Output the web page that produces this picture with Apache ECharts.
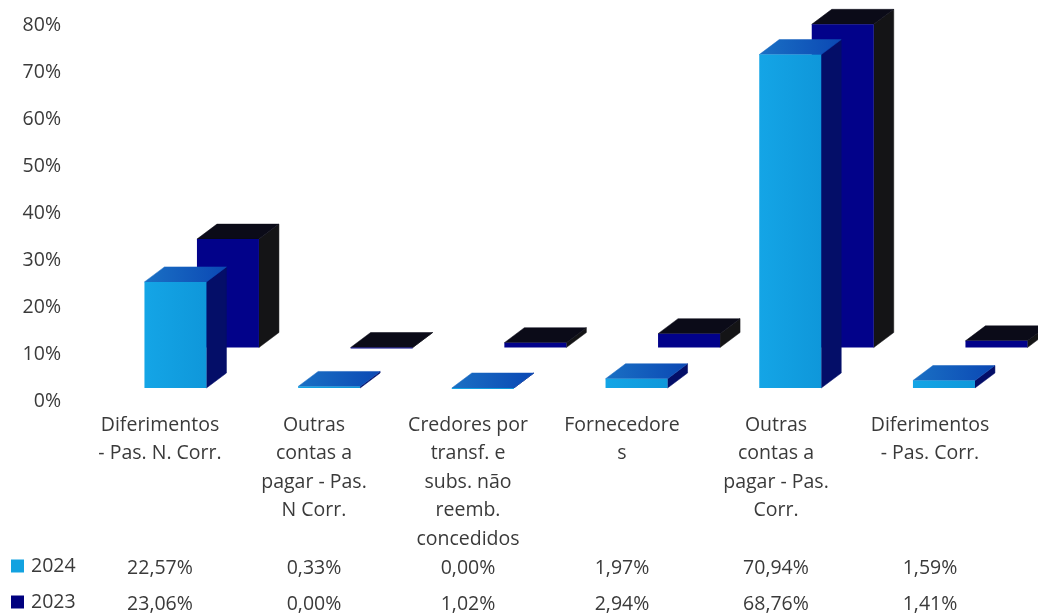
<!DOCTYPE html>
<html><head><meta charset="utf-8">
<style>html,body{margin:0;padding:0;background:#fff}#c{width:1038px;height:614px}</style>
<script src="https://cdn.jsdelivr.net/npm/echarts@6/dist/echarts.min.js"></script>
</head><body><div id="c"></div>
<script>
const categories = ["Diferimentos\n- Pas. N. Corr.","Outras\ncontas a\npagar - Pas.\nN Corr.","Credores por\ntransf. e\nsubs. não\nreemb.\nconcedidos","Fornecedore\ns","Outras\ncontas a\npagar - Pas.\nCorr.","Diferimentos\n- Pas. Corr."];
const values2024 = [22.57,0.33,0.00,1.97,70.94,1.59];
const values2023 = [23.06,0.00,1.02,2.94,68.76,1.41];
const yTicks = [0,10,20,30,40,50,60,70,80];

const font = '"Open Sans"';
const fontSize = 19.5;
const textColor = '#3a3a3a';
const fmt = v => v.toFixed(2).replace('.',',') + '%';
const grad = (a,b,h) => new echarts.graphic.LinearGradient(0,0,h?1:0,h?0:1,[{offset:0,color:a},{offset:1,color:b}]);

function prism(cols, shiftX, shiftY){
  return function(params, api){
    const top = api.coord([api.value(0), api.value(1)]);
    const base = api.coord([api.value(0), 0]);
    const w = 62, dx = 20, dy = 15, e = 0.5;
    const l = top[0] - w/2 + shiftX, r = l + w;
    const yt = top[1] + shiftY, yb = base[1] + shiftY;
    const kids = [];
    kids.push({type:'polygon',shape:{points:[[r,yt],[r+dx,yt-dy],[r+dx,yb-dy],[r,yb]]},style:{fill:cols.side,stroke:cols.side,lineWidth:e}});
    kids.push({type:'polygon',shape:{points:[[l,yt],[l+dx,yt-dy],[r+dx,yt-dy],[r,yt]]},style:{fill:cols.top,stroke:cols.top,lineWidth:e}});
    kids.push({type:'rect',shape:{x:l,y:yt,width:w,height:Math.max(yb-yt,1)},style:{fill:cols.front}});
    return {type:'group',children:kids};
  };
}

const legendBase = {left:11,orient:'horizontal',padding:0,icon:'rect',itemWidth:13,itemHeight:13,
  textStyle:{fontFamily:font,fontSize:fontSize,color:textColor,padding:[0,0,0,2]}};

const chart = echarts.init(document.getElementById('c'),null,{renderer:'canvas'});
chart.setOption({
  animation:false,
  backgroundColor:'#fff',
  legend:[
    Object.assign({},legendBase,{top:556,data:['2024']}),
    Object.assign({},legendBase,{top:592,data:['2023']})
  ],
  grid:[
    {left:83,width:924,top:25,bottom:213},
    {left:98.6,width:922.2,top:12,bottom:226}
  ],
  xAxis:[
    {gridIndex:0,type:'category',data:categories,axisLine:{show:false},axisTick:{show:false},
      axisLabel:{interval:0,margin:10,lineHeight:28.5,fontFamily:font,fontSize:fontSize,color:textColor,verticalAlign:'top'}},
    {gridIndex:0,type:'category',data:values2024.map(fmt),position:'bottom',offset:151,axisLine:{show:false},axisTick:{show:false},
      axisLabel:{interval:0,margin:6,fontFamily:font,fontSize:fontSize,color:textColor}},
    {gridIndex:0,type:'category',data:values2023.map(fmt),position:'bottom',offset:187,axisLine:{show:false},axisTick:{show:false},
      axisLabel:{interval:0,margin:6,fontFamily:font,fontSize:fontSize,color:textColor}},
    {gridIndex:1,type:'category',data:categories,show:false}
  ],
  yAxis:[
    {gridIndex:0,type:'value',min:0,max:80,interval:10,splitLine:{show:false},axisLine:{show:false},axisTick:{show:false},
      axisLabel:{margin:22,fontFamily:font,fontSize:fontSize,color:textColor,formatter:v=>yTicks.includes(v)?v+'%':''}},
    {gridIndex:1,type:'value',min:0,max:80,interval:10,show:false}
  ],
  series:[
    {name:'2023',type:'custom',xAxisIndex:3,yAxisIndex:1,itemStyle:{color:'#00007f'},
      data:values2023.map((v,i)=>[i,v]),encode:{x:0,y:1},
      renderItem:prism({front:'#02028a',top:'#0b0b18',side:'#141416'},52.5,-40.5)},
    {name:'2024',type:'custom',xAxisIndex:3,yAxisIndex:1,itemStyle:{color:'#12a2e0'},
      data:values2024.map((v,i)=>[i,v]),encode:{x:0,y:1},
      renderItem:prism({front:grad('#14a5e6','#0f97da',true),top:grad('#1a70c4','#0b48b4',true),side:'#040e68'},0,0)}
  ]
});
</script></body></html>
